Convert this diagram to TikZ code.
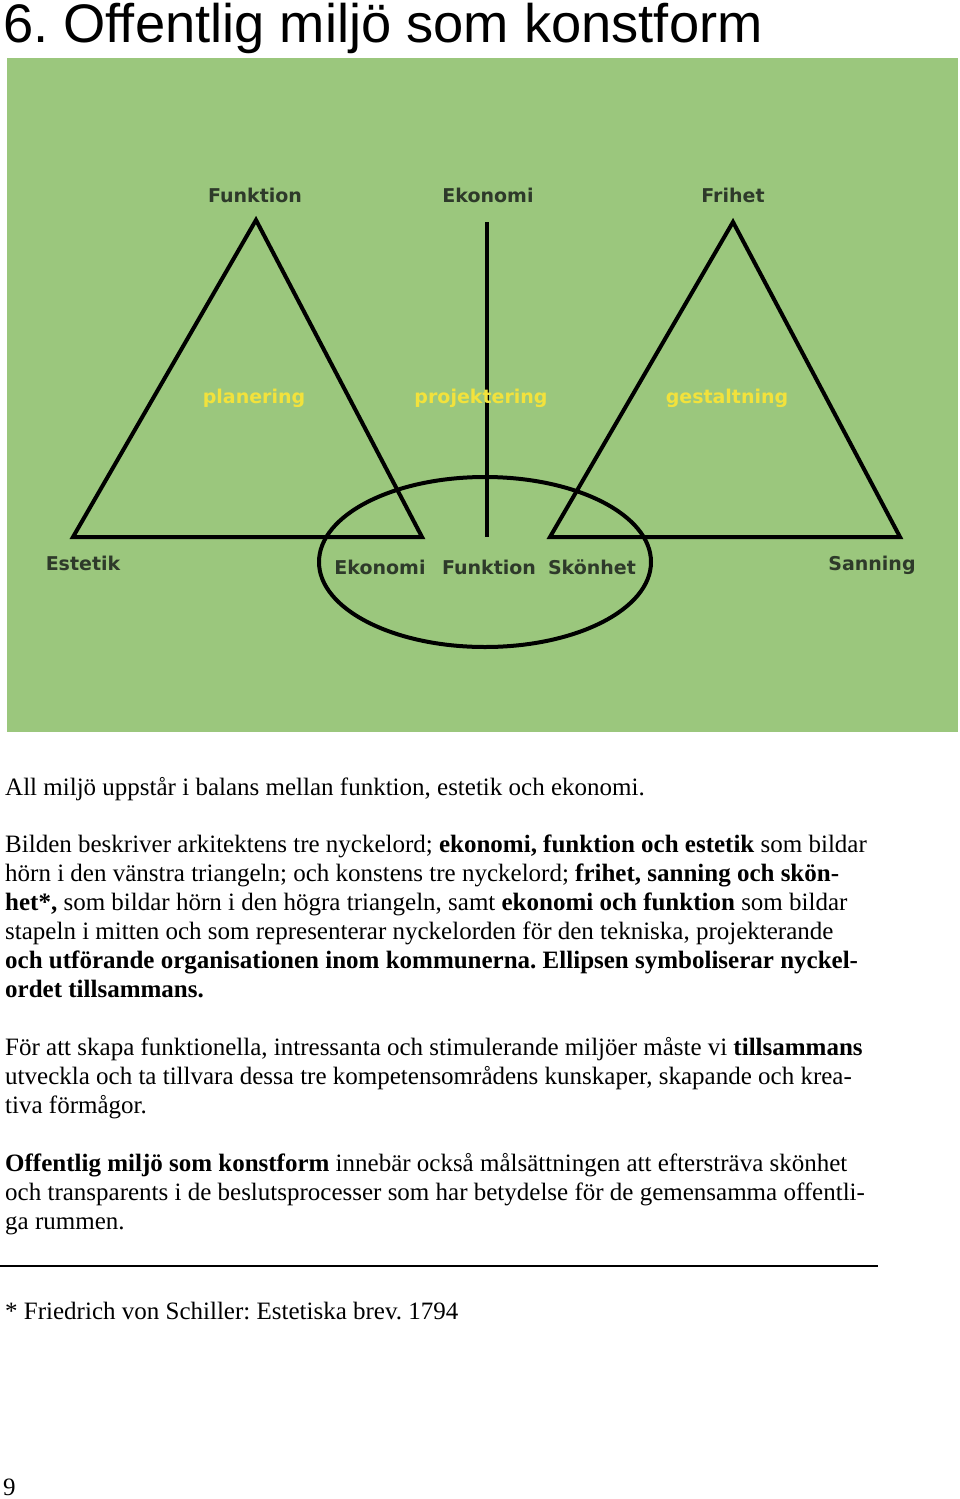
\documentclass[tikz,border=0pt]{standalone}
\usepackage{fontspec}
\setmainfont{Liberation Serif}
\newfontfamily\lsans{Liberation Sans}
\newfontfamily\dbold{DejaVu Sans}
\definecolor{bg}{HTML}{9BC77D}
\definecolor{lab}{HTML}{2E3A2A}
\definecolor{yel}{HTML}{F2E23C}
\frenchspacing
\begin{document}
\begin{tikzpicture}[x=1pt,y=-1pt,
  blab/.style={font=\dbold\bfseries\fontsize{19}{21}\selectfont,text=lab,inner sep=0pt},
  ylab/.style={font=\dbold\bfseries\fontsize{19}{21}\selectfont,text=yel,inner sep=0pt},
  body/.style={anchor=base west,inner sep=0pt,font=\fontsize{25}{28}\selectfont},
  shp/.style={line width=4pt,draw=black}]
\useasboundingbox (0,0) rectangle (960,1499);
\fill[bg] (7,58) rectangle (958,732);
\node[anchor=base west,inner sep=0pt,font=\lsans\fontsize{54.3}{58}\selectfont] (title) at (3,42) {6. Offentlig miljö som konstform};
% shapes
\coordinate (la) at (256,220); \coordinate (lb) at (73,537); \coordinate (lc) at (422,537);
\coordinate (ra) at (733,222); \coordinate (rb) at (550,537); \coordinate (rc) at (900,537);
\coordinate (vt) at (487,222); \coordinate (vb) at (487,537);
\draw[shp,line join=miter] (la) -- (lb) -- (lc) -- cycle;
\draw[shp,line join=miter] (ra) -- (rb) -- (rc) -- cycle;
\draw[shp] (vt) -- (vb);
\draw[shp] (485,562) ellipse [x radius=166, y radius=85];
% labels
\node[blab] (f1) at (255,195) {Funktion};
\node[blab] (e1) at (488,195) {Ekonomi};
\node[blab] (fr) at (733,195) {Frihet};
\node[blab] (es) at (83,563) {Estetik};
\node[blab] (e2) at (380,567) {Ekonomi};
\node[blab] (f2) at (489,567) {Funktion};
\node[blab] (sk) at (592,567) {Skönhet};
\node[blab] (sa) at (872,565) {Sanning};
\node[ylab] (pl) at (254,398) {planering};
\node[ylab] (pr) at (481,398) {projektering};
\node[ylab] (ge) at (727,398) {gestaltning};
% body text
\node[body] (t1) at (5,795) {All miljö uppstår i balans mellan funktion, estetik och ekonomi.};
\node[body] (t2) at (5,852) {Bilden beskriver arkitektens tre nyckelord; \textbf{ekonomi, funktion och estetik} som bildar};
\node[body] (t3) at (5,881) {hörn i den vänstra triangeln; och konstens tre nyckelord; \textbf{frihet, sanning och skön-}};
\node[body] (t4) at (5,910) {\textbf{het*,} som bildar hörn i den högra triangeln, samt \textbf{ekonomi och funktion} som bildar};
\node[body] (t5) at (5,939) {stapeln i mitten och som representerar nyckelorden för den tekniska, projekterande};
\node[body] (t6) at (5,968) {\textbf{och utförande organisationen inom kommunerna. Ellipsen symboliserar nyckel-}};
\node[body] (t7) at (5,997) {\textbf{ordet tillsammans.}};
\node[body] (t8) at (5,1055) {För att skapa funktionella, intressanta och stimulerande miljöer måste vi \textbf{tillsammans}};
\node[body] (t9) at (5,1084) {utveckla och ta tillvara dessa tre kompetensområdens kunskaper, skapande och krea-};
\node[body] (t10) at (5,1113) {tiva förmågor.};
\node[body] (t11) at (5,1171) {\textbf{Offentlig miljö som konstform} innebär också målsättningen att eftersträva skönhet};
\node[body] (t12) at (5,1200) {och transparents i de beslutsprocesser som har betydelse för de gemensamma offentli-};
\node[body] (t13) at (5,1229) {ga rummen.};
\coordinate (r1) at (0,1266); \coordinate (r2) at (878,1266);
\draw[line width=1.5pt] (r1) -- (r2);
\node[body] (fn) at (5,1319) {* Friedrich von Schiller: Estetiska brev. 1794};
\node[body] (pg) at (3,1495) {9};
\end{tikzpicture}
\end{document}
